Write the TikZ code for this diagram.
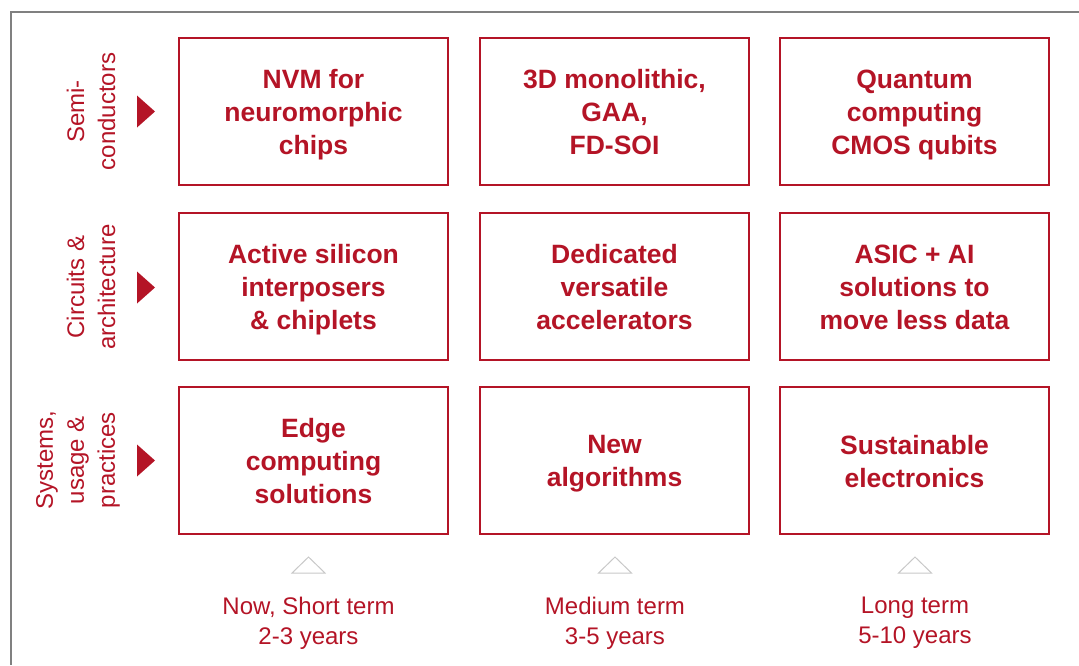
\documentclass[tikz,border=0pt]{standalone}
\usepackage{fontspec}
\setmainfont{Liberation Sans}
\usetikzlibrary{shapes}
\definecolor{cred}{RGB}{180,20,38}
\definecolor{framegray}{RGB}{128,128,128}
\definecolor{markgray}{RGB}{200,200,200}

\begin{document}
\begin{tikzpicture}[x=1pt,y=-1pt,
		box/.style={draw=cred,line width=2pt,minimum width=269pt,minimum height=147pt,inner sep=0pt},
		boxtext/.style={text=cred,align=center,text depth=6pt,yshift=-3.5pt,font=\fontsize{26.5}{33}\selectfont\bfseries},
		side/.style={text=cred,rotate=90,align=center,font=\fontsize{24}{31}\selectfont},
		term/.style={text=cred,align=center,font=\fontsize{24}{30}\selectfont}]
			\useasboundingbox (0,0) rectangle (1079,665);
			\coordinate[](corner) at (11,12) ;
			\coordinate[](topend) at (1079,12) ;
			\coordinate[](leftend) at (11,665) ;
			\draw[framegray, line width=2pt](topend) -- (corner) -- (leftend);
			
			% row headings
			\node[side](h1) at (91,111.5) {Semi-\\conductors};
			\node[side](h2) at (91,287) {Circuits \&\\architecture};
			\node[side](h3) at (78,460) {Systems,\\usage \&\\practices};
			
			\coordinate[](a1) at (146,111.5) ;
			\coordinate[](a2) at (146,287.5) ;
			\coordinate[](a3) at (146,460.5) ;
			\fill[cred](a1) ++(-9,-16) -- ++(18,16) -- ++(-18,16) -- cycle;
			\fill[cred](a2) ++(-9,-16) -- ++(18,16) -- ++(-18,16) -- cycle;
			\fill[cred](a3) ++(-9,-16) -- ++(18,16) -- ++(-18,16) -- cycle;
			
			% the nine boxes
			\node[box,label={[boxtext]center:NVM for\\neuromorphic\\chips}](b11) at (313.5,111.5) {};
			\node[box,label={[boxtext]center:3D monolithic,\\GAA,\\FD-SOI}](b12) at (614.5,111.5) {};
			\node[box,label={[boxtext]center:Quantum\\computing\\CMOS qubits}](b13) at (914.5,111.5) {};
			\node[box,label={[boxtext]center:Active silicon\\interposers\\\& chiplets}](b21) at (313.5,286.5) {};
			\node[box,label={[boxtext]center:Dedicated\\versatile\\accelerators}](b22) at (614.5,286.5) {};
			\node[box,label={[boxtext]center:ASIC + AI\\solutions to\\move less data}](b23) at (914.5,286.5) {};
			\node[box,label={[boxtext]center:Edge\\computing\\solutions}](b31) at (313.5,460.5) {};
			\node[box,label={[boxtext]center:New\\algorithms}](b32) at (614.5,460.5) {};
			\node[box,label={[boxtext]center:Sustainable\\electronics}](b33) at (914.5,460.5) {};
			
			% time scale
			\coordinate[](t1) at (308.5,573) ;
			\coordinate[](t2) at (615,573) ;
			\coordinate[](t3) at (915,573) ;
			\draw[markgray, line width=1pt](t1) ++(-16.5,0) -- ++(16.5,-16) -- ++(16.5,16) -- cycle;
			\draw[markgray, line width=1pt](t2) ++(-16.5,0) -- ++(16.5,-16) -- ++(16.5,16) -- cycle;
			\draw[markgray, line width=1pt](t3) ++(-16.5,0) -- ++(16.5,-16) -- ++(16.5,16) -- cycle;
			
			\node[term](n1) at (308.5,623) {Now, Short term\\2-3 years};
			\node[term](n2) at (615,623) {Medium term\\3-5 years};
			\node[term](n3) at (915,623) {Long term\\5-10 years};
			\end{tikzpicture}
\end{document}
